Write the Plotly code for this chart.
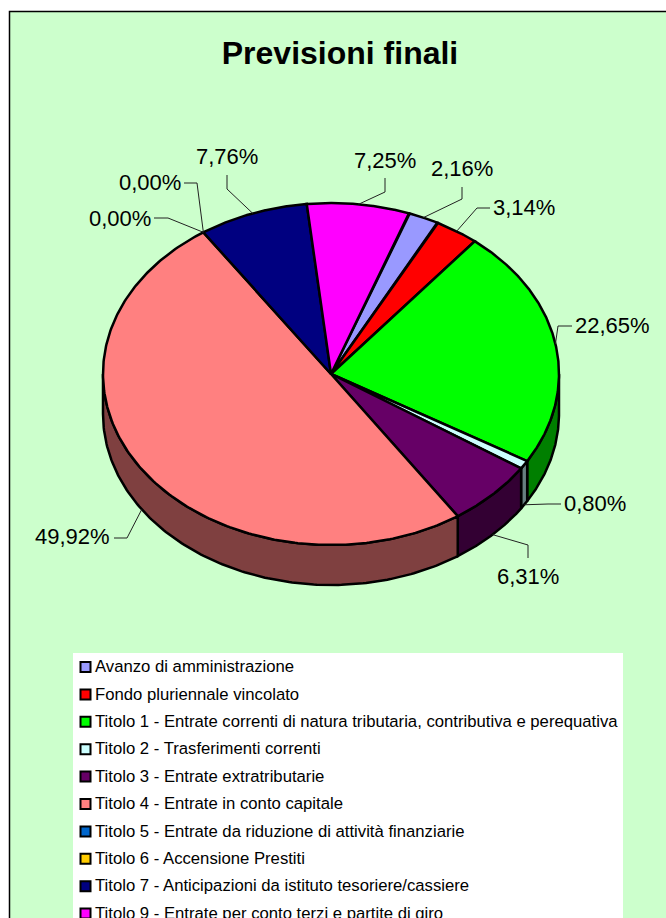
import numpy as np
import plotly.graph_objects as go

categories = [
    "Avanzo di amministrazione",
    "Fondo pluriennale vincolato",
    "Titolo 1 - Entrate correnti di natura tributaria, contributiva e perequativa",
    "Titolo 2 - Trasferimenti correnti",
    "Titolo 3 - Entrate extratributarie",
    "Titolo 4 - Entrate in conto capitale",
    "Titolo 5 - Entrate da riduzione di attività finanziarie",
    "Titolo 6 - Accensione Prestiti",
    "Titolo 7 - Anticipazioni da istituto tesoriere/cassiere",
    "Titolo 9 - Entrate per conto terzi e partite di giro",
]
values = [2.16, 3.14, 22.65, 0.80, 6.31, 49.92, 0.00, 0.00, 7.76, 7.25]
top_colors = ["#9999FF", "#FF0000", "#00FF00", "#CCFFFF", "#660066",
              "#FF8080", "#0066CC", "#FFCC00", "#000080", "#FF00FF"]

# Layout constants (pixels)
BG = "#CCFFCC"
CX, CY, RX, RY, DEPTH = 331, 374, 228, 171, 40
START_DEG = 20.0
LW = 2.5
# elbow and text anchor of each data label: (elbow points, text x, text y, anchor)
label_layout = [
    ([(462, 187), (462, 199)], 429, 168, "left"),
    ([(490, 208), (477, 208)], 491, 207, "left"),
    ([(572, 326), (558, 326)], 573, 325, "left"),
    ([(561, 504), (548, 504)], 562, 503, "left"),
    ([(528, 558), (528, 545)], 528, 576, "center"),
    ([(114, 538), (127, 538)], 112, 536, "right"),
    ([(154, 218), (168, 218)], 153, 218, "right"),
    ([(184, 183), (197, 183)], 183, 182, "right"),
    ([(227, 175), (227, 189)], 227, 156, "center"),
    ([(385, 178), (385, 192)], 385, 160, "center"),
]


def pt(theta, drop=0.0):
    t = np.radians(theta)
    return CX + RX * np.sin(t), CY - RY * np.cos(t) + drop


def shade(hex_color, f=0.5):
    r, g, b = (int(hex_color[i:i + 2], 16) for i in (1, 3, 5))
    return f"rgb({int(r * f)},{int(g * f)},{int(b * f)})"


fig = go.Figure()


def poly(xs, ys, fill, width=LW):
    fig.add_trace(go.Scatter(
        x=list(xs), y=list(ys), mode="lines", fill="toself", fillcolor=fill,
        line=dict(color="black", width=width), hoverinfo="skip", showlegend=False))


edges = START_DEG + np.concatenate([[0], np.cumsum(values)]) * 360 / sum(values)

# side wall, visible only on the front half of the ellipse
for i, c in enumerate(top_colors):
    a, b = max(edges[i], 90), min(edges[i + 1], 270)
    if b <= a:
        continue
    th = np.linspace(a, b, 160)
    x, y = pt(th)
    xb, yb = pt(th[::-1], DEPTH)
    poly(np.r_[x, xb, x[0]], np.r_[y, yb, y[0]], shade(c))

# top surface
for i, c in enumerate(top_colors):
    if values[i] == 0:
        continue
    th = np.linspace(edges[i], edges[i + 1], 240)
    x, y = pt(th)
    poly(np.r_[CX, x, CX], np.r_[CY, y, CY], c)

# data labels and leader lines
for i, v in enumerate(values):
    mid = (edges[i] + edges[i + 1]) / 2
    elbow, tx, ty, anchor = label_layout[i]
    ex, ey = pt(mid, DEPTH if 90 < mid % 360 < 270 else 0)
    fig.add_trace(go.Scatter(
        x=[p[0] for p in elbow] + [ex], y=[p[1] for p in elbow] + [ey],
        mode="lines", line=dict(color="#222222", width=1),
        hoverinfo="skip", showlegend=False))
    fig.add_annotation(x=tx, y=ty, text=f"{v:.2f}%".replace(".", ","),
                       showarrow=False, xanchor=anchor, yanchor="middle",
                       font=dict(family="Liberation Sans", size=22, color="black"))

# legend panel
LEG_SWATCH_X, LEG_TEXT_X, LEG_Y0, LEG_STEP = 85.5, 95, 667, 27.4
leg_y = [LEG_Y0 + k * LEG_STEP for k in range(len(categories))]
leg_text_y = [y + 1 for y in leg_y]
fig.add_trace(go.Scatter(
    x=[LEG_SWATCH_X] * len(categories), y=leg_y, mode="markers",
    marker=dict(symbol="square", size=10, color=top_colors,
                line=dict(color="black", width=2)),
    hoverinfo="skip", showlegend=False, cliponaxis=False))
fig.add_trace(go.Scatter(
    x=[LEG_TEXT_X] * len(categories), y=leg_text_y, mode="text", text=categories,
    textposition="middle right",
    textfont=dict(family="Liberation Sans", size=16.7, color="black"),
    hoverinfo="skip", showlegend=False, cliponaxis=False))

fig.update_layout(
    width=666, height=918, margin=dict(l=0, r=0, t=0, b=0),
    autosize=False, paper_bgcolor="white", plot_bgcolor="white",
    showlegend=False,
    title=dict(text="<b>Previsioni finali</b>", x=340 / 666, xanchor="center",
               y=1 - 53 / 918, yanchor="middle",
               font=dict(family="Liberation Sans", size=32, color="black")),
    xaxis=dict(range=[0, 666], visible=False, fixedrange=True),
    yaxis=dict(range=[918, 0], visible=False, fixedrange=True),
    shapes=[
        dict(type="rect", layer="below", x0=9.5, y0=11.5, x1=700, y1=1000,
             fillcolor=BG, line=dict(color="black", width=1.5)),
        dict(type="rect", layer="below", x0=73, y0=653, x1=623, y1=1000,
             fillcolor="white", line=dict(width=0)),
    ],
)

fig.write_html(
    "out.html", config={"displayModeBar": False},
    post_script="document.body.style.margin='0';document.body.style.overflow='hidden';",
)
